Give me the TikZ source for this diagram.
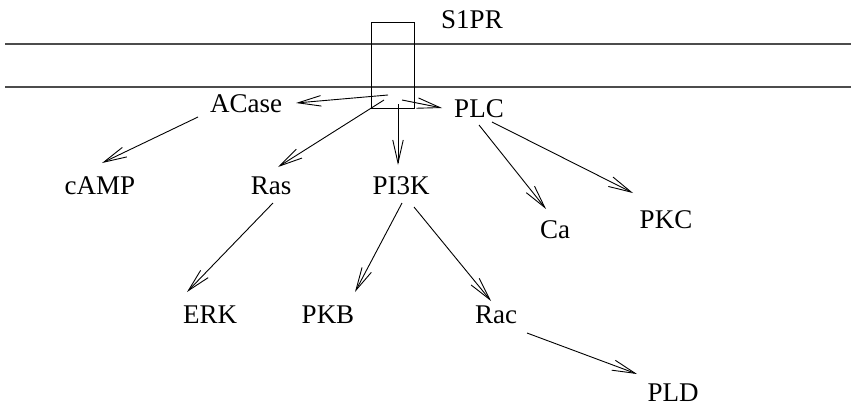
\documentclass[tikz,border=0pt]{standalone}
\usepackage{fontspec}
\setmainfont{Liberation Serif}
\usetikzlibrary{arrows.meta}
\begin{document}
\begin{tikzpicture}[x=1pt,y=-1pt,
  lbl/.style={anchor=base,inner sep=0pt,font=\fontsize{27}{30}\selectfont},
  arr/.style={draw=black,line width=0.9pt,-{Straight Barb[length=23pt,width=10.5pt,line width=0.9pt]}},
  membrane/.style={draw=black!70,line width=1.3pt}]
\useasboundingbox (0,0) rectangle (856,407);
% membrane
\coordinate (m1l) at (5,44); \coordinate (m1r) at (851,44);
\coordinate (m2l) at (5,87); \coordinate (m2r) at (851,87);
\draw[membrane] (m1l) -- (m1r);
\draw[membrane] (m2l) -- (m2r);
% receptor box
\node (box) [draw=black,line width=0.9pt,inner sep=0pt,minimum width=43pt,minimum height=86pt] at (392.5,65) {};
% labels
\node[lbl] (s1pr) at (472,28) {S1PR};
\node[lbl] (acase) at (246,112) {ACase};
\node[lbl] (plc) at (479,117) {PLC};
\node[lbl] (camp) at (100,194) {cAMP};
\node[lbl] (ras) at (271,194) {Ras};
\node[lbl] (pi3k) at (401,194) {PI3K};
\node[lbl] (ca) at (555,238) {Ca};
\node[lbl] (pkc) at (666,228) {PKC};
\node[lbl] (erk) at (210,323) {ERK};
\node[lbl] (pkb) at (328,323) {PKB};
\node[lbl] (rac) at (496,323) {Rac};
\node[lbl] (pld) at (673,401) {PLD};
% connector end points
\coordinate (b-acase) at (388,95);  \coordinate (t-acase) at (296,103);
\coordinate (b-plc) at (402,100);   \coordinate (t-plc) at (442,108);
\coordinate (b-ras) at (384,100);   \coordinate (t-ras) at (278,167);
\coordinate (b-pi3k) at (398,104);  \coordinate (t-pi3k) at (398,165);
\coordinate (s-camp) at (198,117);  \coordinate (t-camp) at (102,163);
\coordinate (s-erk) at (273,203);   \coordinate (t-erk) at (187,292);
\coordinate (s-ca) at (479,125);    \coordinate (t-ca) at (546,209);
\coordinate (s-pkc) at (492,122);   \coordinate (t-pkc) at (633,193);
\coordinate (s-pkb) at (402,203);   \coordinate (t-pkb) at (355,292);
\coordinate (s-rac) at (414,207);   \coordinate (t-rac) at (491,301);
\coordinate (s-pld) at (527,333);   \coordinate (t-pld) at (637,374);
% connectors
\draw[arr] (b-acase) -- (t-acase);
\draw[arr] (b-plc) -- (t-plc);
\draw[arr] (b-ras) -- (t-ras);
\draw[arr] (b-pi3k) -- (t-pi3k);
\draw[arr] (s-camp) -- (t-camp);
\draw[arr] (s-erk) -- (t-erk);
\draw[arr] (s-ca) -- (t-ca);
\draw[arr] (s-pkc) -- (t-pkc);
\draw[arr] (s-pkb) -- (t-pkb);
\draw[arr] (s-rac) -- (t-rac);
\draw[arr] (s-pld) -- (t-pld);
\end{tikzpicture}
\end{document}
